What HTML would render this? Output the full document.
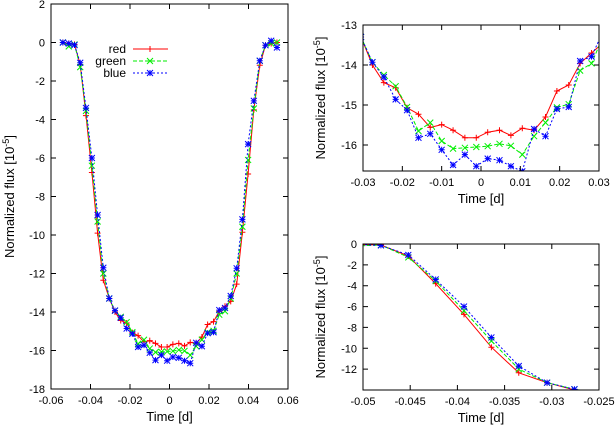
<!DOCTYPE html>
<html><head><meta charset="utf-8"><style>
html,body{margin:0;padding:0;background:#fff}
svg{display:block;font-family:"Liberation Sans",sans-serif}
</style></head><body>
<svg id="chart" width="616" height="428" xmlns="http://www.w3.org/2000/svg"></svg>
<script>
const times = [-0.0540,-0.0510,-0.0481,-0.0452,-0.0423,-0.0393,-0.0364,-0.0335,-0.0305,-0.0276,-0.0247,-0.0217,-0.0188,-0.0159,-0.0129,-0.0100,-0.0071,-0.0041,-0.0012,0.0017,0.0047,0.0076,0.0105,0.0135,0.0164,0.0193,0.0223,0.0252,0.0281,0.0310,0.0340,0.0369,0.0398,0.0427,0.0457,0.0486,0.0515,0.0544];
const redFlux = [0,-0.05,-0.1,-1.15,-3.8,-6.75,-9.9,-12.35,-13.3,-14.0,-14.44,-14.57,-15.07,-15.23,-15.56,-15.49,-15.63,-15.82,-15.82,-15.68,-15.63,-15.76,-15.58,-15.63,-15.30,-14.65,-14.5,-13.96,-13.7,-13.45,-12.55,-9.86,-6.83,-3.5,-1.18,-0.14,-0.05,0];
const greenFlux = [0,-0.2,-0.1,-1.28,-3.55,-6.4,-9.3,-12.0,-13.3,-13.93,-14.25,-14.53,-15.05,-15.65,-15.44,-15.9,-16.09,-16.07,-16.05,-16.03,-15.97,-16.02,-16.24,-15.78,-15.44,-15.06,-14.98,-14.14,-13.96,-13.3,-12.0,-9.57,-6.1,-3.43,-0.95,-0.14,-0.05,0];
const blueFlux = [0,-0.05,-0.13,-1.05,-3.4,-6.0,-8.96,-11.7,-13.3,-13.93,-14.3,-14.86,-15.13,-15.82,-15.72,-16.12,-16.5,-16.24,-16.53,-16.34,-16.38,-16.53,-16.66,-15.6,-15.78,-15.1,-15.05,-13.9,-13.79,-13.17,-11.73,-9.19,-5.28,-3.03,-0.95,-0.14,0.09,-0.26];
const mainXTicks = [-0.06,-0.04,-0.02,0,0.02,0.04,0.06];
const mainYTicks = [2,0,-2,-4,-6,-8,-10,-12,-14,-16,-18];
const topXTicks = [-0.03,-0.02,-0.01,0,0.01,0.02,0.03];
const topYTicks = [-13,-14,-15,-16];
const botXTicks = [-0.05,-0.045,-0.04,-0.035,-0.03,-0.025];
const botYTicks = [0,-2,-4,-6,-8,-10,-12];

const NS = "http://www.w3.org/2000/svg";
const svg = document.getElementById('chart');
function mk(tag, attrs, parent){const e=document.createElementNS(NS,tag);for(const k in attrs)e.setAttribute(k,attrs[k]);(parent||svg).appendChild(e);return e;}
const series = [
  {name:'red', data:redFlux, color:'#ff0000', dash:'', marker:'plus'},
  {name:'green', data:greenFlux, color:'#00ee00', dash:'4,2', marker:'x'},
  {name:'blue', data:blueFlux, color:'#0000ff', dash:'2,2', marker:'star'}
];
function marker(g, type, x, y, color){
  const s=3;
  let d='';
  if(type==='plus') d=`M${x-s},${y}H${x+s}M${x},${y-s}V${y+s}`;
  else if(type==='x') d=`M${x-s},${y-s}L${x+s},${y+s}M${x-s},${y+s}L${x+s},${y-s}`;
  else d=`M${x-s},${y}H${x+s}M${x},${y-s}V${y+s}M${x-s},${y-s}L${x+s},${y+s}M${x-s},${y+s}L${x+s},${y-s}`;
  const p=mk('path',{d:d,stroke:color,'stroke-width':1,fill:'none'},g);
  
  
}
function panel(opt){
  const g=mk('g',{});
  
  
  const {L,R,T,B,x0,x1,y0,y1}=opt;
  const sx=v=>L+(v-x0)/(x1-x0)*(R-L);
  const sy=v=>T+(y0-v)/(y0-y1)*(B-T);
  const cid='clip-'+opt.name;
  const cp=mk('clipPath',{id:cid},g); mk('rect',{x:L,y:T,width:R-L,height:B-T},cp);
  const dg=mk('g',{'clip-path':`url(#${cid})`},g);
  
  
  series.forEach(s=>{
    const pts=times.map((t,i)=>sx(t).toFixed(1)+','+sy(s.data[i]).toFixed(1)).join(' ');
    const pl=mk('polyline',{points:pts,fill:'none',stroke:s.color,'stroke-width':1,'stroke-dasharray':s.dash},dg);
    
    
    times.forEach((t,i)=>marker(dg,s.marker,sx(t),sy(s.data[i]),s.color));
  });
  const fr=mk('rect',{x:L,y:T,width:R-L,height:B-T,fill:'none',stroke:'#000','stroke-width':1},g);
  
  
  opt.xt.forEach(v=>{
    const x=sx(v);
    mk('path',{d:`M${x},${B}v-5M${x},${T}v5`,stroke:'#000','stroke-width':1},g);
    const t=mk('text',{x:x,y:B+15,'font-size':11,'text-anchor':'middle'},g);
    t.textContent=String(v);
    
    
  });
  opt.yt.forEach(v=>{
    const y=sy(v);
    mk('path',{d:`M${L},${y}h5M${R},${y}h-5`,stroke:'#000','stroke-width':1},g);
    const t=mk('text',{x:L-6,y:y+4,'font-size':11,'text-anchor':'end'},g);
    t.textContent=String(v);
    
    
  });
  const xl=mk('text',{x:(L+R)/2,y:B+32,'font-size':13,'text-anchor':'middle'},g);
  xl.textContent='Time [d]';
  
  
  const yl=mk('text',{x:0,y:0,'font-size':13,'text-anchor':'middle',transform:`translate(${opt.ylx},${(T+B)/2}) rotate(-90)`},g);
  yl.innerHTML='Normalized flux [10<tspan dy="-5" font-size="9">-5</tspan><tspan dy="5">]</tspan>';
  
  
}
panel({name:'main-panel',L:51,R:288,T:4,B:389,x0:-0.06,x1:0.06,y0:2,y1:-18,xt:mainXTicks,yt:mainYTicks,ylx:14});
panel({name:'top-inset-panel',L:363,R:599,T:25,B:171,x0:-0.03,x1:0.03,y0:-13,y1:-16.65,xt:topXTicks,yt:topYTicks,ylx:325});
panel({name:'bottom-inset-panel',L:363,R:599,T:244,B:390,x0:-0.05,x1:-0.025,y0:0,y1:-14.0,xt:botXTicks,yt:botYTicks,ylx:325});
// legend
const lg=mk('g',{});


series.forEach((s,i)=>{
  const y=[49,61,73][i];
  const t=mk('text',{x:126,y:y+4,'font-size':12,'text-anchor':'end'},lg);
  t.textContent=s.name;
  
  
  const l=mk('line',{x1:133,x2:168,y1:y,y2:y,stroke:s.color,'stroke-width':1,'stroke-dasharray':s.dash},lg);
  
  
  marker(lg,s.marker,150,y,s.color);
});
</script>
</body></html>
